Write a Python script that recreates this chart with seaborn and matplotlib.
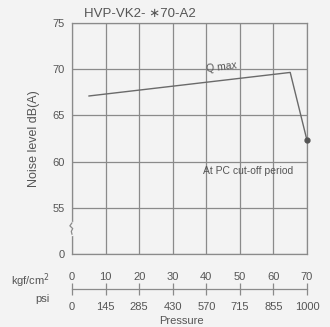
import matplotlib
matplotlib.use("Agg")
import matplotlib.pyplot as plt
import seaborn as sns
import pandas as pd

# Noise level of HVP-VK2-*70-A2 at PC cut-off, vs. discharge pressure
pressure_kgf = [5, 65, 70]
noise_dba = [67.1, 69.65, 62.3]

kgf_ticks = [0, 10, 20, 30, 40, 50, 60, 70]
psi_labels = ["0", "145", "285", "430", "570", "715", "855", "1000"]

# y axis is broken below 55: the bottom gridline stands for 0 dB(A)
y_ticks = [50, 55, 60, 65, 70, 75]
y_labels = ["0", "55", "60", "65", "70", "75"]

sns.set_theme(style="white")
plt.rcParams["font.family"] = ["Liberation Sans", "DejaVu Sans"]

bg = "#f3f3f3"
grid_c = "#8a8a8a"
text_c = "#555555"
line_c = "#6a6a6a"

W, H = 330, 327
fig = plt.figure(figsize=(W / 100, H / 100), dpi=100, facecolor=bg)


def px_rect(x0, y0, x1, y1):
    return [x0 / W, 1 - y1 / H, (x1 - x0) / W, (y1 - y0) / H]


ax = fig.add_axes(px_rect(72, 23, 307, 254))
ax.set_facecolor(bg)

df = pd.DataFrame({"pressure": pressure_kgf, "noise": noise_dba})
sns.lineplot(data=df, x="pressure", y="noise", ax=ax, color=line_c,
             linewidth=1.0, sort=False)
ax.plot(pressure_kgf[-1], noise_dba[-1], "o", color="#555555",
        markersize=3.5, clip_on=False, zorder=5)

ax.set_xlim(0, 70)
ax.set_ylim(50, 75)
ax.set_xticks(kgf_ticks)
ax.set_xticklabels([])
ax.set_yticks(y_ticks)
ax.set_yticklabels(y_labels, fontsize=8, color=text_c)
ax.tick_params(axis="both", length=0, pad=5)
ax.grid(True, color=grid_c, linewidth=0.9)
for s in ax.spines.values():
    s.set_color(grid_c)
    s.set_linewidth(0.9)
ax.set_xlabel("")
ax.set_ylabel("Noise level dB(A)", fontsize=9, color=text_c, labelpad=9)

# small wavy break mark on the left spine
bx = [0, -0.009, 0.003, -0.003, 0]
by = [0.135, 0.122, 0.11, 0.098, 0.085]
ax.plot([0, 0], [0.085, 0.135], color=bg, linewidth=2.5,
        transform=ax.transAxes, clip_on=False, zorder=6)
ax.plot(bx, by, color=grid_c, linewidth=0.9, transform=ax.transAxes,
        clip_on=False, zorder=7)

ax.set_title("HVP-VK2- \u221770-A2", fontsize=9.5,
             color=text_c, loc="left", x=0.05, pad=4)

ax.text(44.6, 69.45, "Q max", fontsize=7.5, color=text_c, rotation=7,
        ha="center", va="bottom")
ax.text(52.4, 59.0, "At PC cut-off period", fontsize=7.5, color=text_c,
        ha="center", va="center")

# dual pressure scale below the chart: kgf/cm2 above, psi below
sc = fig.add_axes(px_rect(72, 289, 307, 289.01))
sc.set_facecolor("none")
sc.set_xlim(0, 70)
sc.set_ylim(0, 1)
sc.set_yticks([])
for k, s in sc.spines.items():
    s.set_visible(k == "bottom")
sc.spines["bottom"].set_color(grid_c)
sc.spines["bottom"].set_linewidth(0.9)
sc.set_xticks(kgf_ticks)
sc.set_xticklabels(psi_labels, fontsize=8, color=text_c)
sc.tick_params(axis="x", bottom=True, direction="inout", length=9,
               width=0.9, color=grid_c, pad=5)
top = sc.secondary_xaxis("top")
top.set_xticks(kgf_ticks)
top.set_xticklabels([str(v) for v in kgf_ticks], fontsize=8, color=text_c)
top.tick_params(axis="x", top=False, length=0, pad=5)
top.spines["top"].set_visible(False)

fig.text(50 / W, 1 - 281 / H, "kgf/cm$^2$", fontsize=8, color=text_c,
         ha="right", va="center")
fig.text(50 / W, 1 - 299 / H, "psi", fontsize=8, color=text_c,
         ha="right", va="center")
fig.text(181 / W, 1 - 321 / H, "Pressure", fontsize=8, color=text_c,
         ha="center", va="center")

fig.savefig("out.png", dpi=100, facecolor=bg)
